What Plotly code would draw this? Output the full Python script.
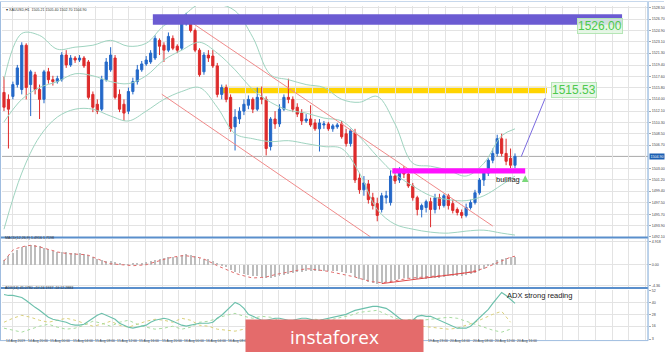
import plotly.graph_objects as go

# ---------------- data ----------------
candle_idx = list(range(116))
open_ = [1515.06,1513.96,1514.43,1516.31,1515.53,1522.56,1516.31,1517.87,1515.53,1513.96,
1518.34,1517.09,1516.78,1517.09,1521.00,1519.43,1520.53,1520.21,1520.53,1519.90,
1514.75,1513.18,1512.40,1517.09,1518.65,1520.53,1514.75,1513.18,1512.09,1515.21,
1516.78,1518.65,1519.59,1519.90,1520.53,1523.34,1522.56,1521.78,1523.65,1522.40,
1522.09,1526.15,1526.93,1524.90,1521.78,1518.34,1521.00,1520.84,1519.28,1514.75,
1515.84,1514.28,1509.59,1510.84,1512.09,1513.03,1513.96,1512.40,1514.28,1513.96,
1506.46,1510.84,1510.06,1512.40,1514.28,1513.96,1512.71,1511.78,1510.53,1510.84,
1510.21,1509.28,1509.90,1510.06,1509.28,1509.59,1510.06,1508.50,1506.93,1508.65,
1501.46,1499.59,1500.53,1498.34,1497.40,1496.46,1498.34,1497.56,1501.78,1501.15,
1502.71,1502.09,1500.21,1498.34,1496.46,1496.78,1497.71,1496.46,1498.34,1497.09,
1498.65,1497.40,1496.46,1495.99,1495.53,1496.78,1497.56,1499.12,1501.15,1502.25,
1504.28,1505.37,1507.71,1505.37,1504.59,1503.50]
high = [1517.56,1514.75,1516.78,1519.43,1523.03,1522.87,1518.65,1518.34,1516.31,1518.65,
1518.96,1517.71,1517.71,1521.46,1521.78,1521.00,1520.84,1521.00,1520.84,1520.21,
1515.21,1513.96,1517.71,1520.53,1522.25,1521.00,1515.53,1513.96,1515.84,1517.40,
1519.43,1520.06,1520.84,1521.78,1524.12,1523.65,1523.03,1524.59,1524.12,1522.71,
1526.78,1527.71,1527.25,1525.21,1522.09,1521.46,1521.78,1521.78,1519.75,1516.31,
1516.31,1514.75,1512.40,1512.71,1513.96,1514.59,1514.28,1515.84,1516.00,1514.43,
1511.15,1512.09,1513.18,1514.75,1517.25,1514.43,1513.34,1512.40,1511.62,1513.03,
1510.84,1510.84,1510.53,1510.37,1510.06,1510.21,1510.53,1509.28,1509.28,1509.28,
1502.25,1501.78,1501.15,1499.12,1498.34,1499.12,1499.43,1502.71,1503.03,1503.18,
1503.34,1502.71,1500.68,1498.65,1497.40,1498.03,1498.34,1498.96,1498.96,1498.96,
1498.96,1498.03,1496.78,1496.46,1497.40,1498.03,1499.59,1501.46,1502.71,1504.59,
1506.15,1508.34,1508.50,1507.71,1506.15,1505.37]
low = [1512.09,1506.15,1513.96,1515.84,1514.75,1513.96,1511.31,1514.75,1510.84,1513.34,
1516.46,1516.15,1516.46,1516.78,1518.96,1519.12,1519.75,1519.90,1518.96,1513.96,
1511.93,1511.62,1512.09,1516.78,1518.34,1513.96,1511.93,1510.53,1511.62,1514.75,
1516.31,1518.34,1519.28,1519.59,1520.21,1521.00,1519.90,1521.46,1521.78,1521.31,
1521.78,1525.68,1524.59,1521.46,1517.56,1517.87,1519.90,1518.96,1514.28,1513.96,
1513.50,1508.81,1505.84,1510.06,1511.46,1512.40,1511.78,1512.09,1513.18,1505.06,
1505.84,1509.28,1509.59,1512.09,1513.34,1511.93,1511.15,1509.90,1510.21,1509.59,
1508.96,1505.68,1509.28,1508.96,1508.81,1509.28,1507.71,1506.46,1506.46,1500.68,
1498.96,1498.65,1497.40,1496.46,1494.59,1495.99,1497.40,1497.09,1500.53,1500.68,
1501.46,1499.90,1497.87,1495.53,1495.21,1495.99,1493.65,1495.84,1496.46,1496.78,
1496.46,1495.84,1495.53,1495.06,1495.21,1496.46,1497.25,1498.81,1500.21,1501.78,
1503.81,1504.90,1504.90,1503.50,1503.03,1503.03]
close = [1512.71,1512.40,1516.31,1518.96,1522.56,1515.84,1518.34,1515.53,1513.96,1518.34,
1517.09,1516.78,1517.25,1521.00,1519.43,1520.53,1520.21,1520.53,1519.28,1514.28,
1512.71,1512.09,1517.09,1519.90,1521.00,1514.28,1512.40,1511.78,1515.21,1516.78,
1518.65,1519.59,1520.21,1521.31,1523.65,1522.40,1521.78,1523.96,1522.09,1521.78,
1526.46,1527.25,1524.90,1521.78,1517.87,1521.00,1520.53,1519.28,1514.75,1515.84,
1513.96,1509.28,1511.15,1512.09,1513.18,1513.96,1512.40,1514.28,1513.96,1506.15,
1510.84,1510.06,1512.40,1514.28,1513.96,1512.40,1511.62,1510.53,1510.84,1509.90,
1509.28,1510.21,1510.06,1509.28,1509.75,1509.90,1508.03,1506.93,1508.96,1501.15,
1499.59,1500.68,1498.03,1497.09,1495.53,1498.65,1498.65,1501.78,1501.00,1502.71,
1502.09,1500.21,1498.34,1496.46,1497.09,1497.71,1496.46,1498.34,1497.09,1498.65,
1497.09,1496.31,1495.99,1495.53,1496.78,1497.56,1499.12,1501.15,1502.25,1504.28,
1505.37,1507.71,1505.37,1504.12,1503.50,1504.90]

bb_idx = [0,4,8,12,16,20,24,28,32,36,40,44,48,52,56,60,64,68,72,76,80,84,88,92,96,100,104,108,112,115]
bb_upper = [1517.09,1524.43,1524.12,1521.93,1522.25,1522.56,1523.34,1522.40,1522.87,1525.68,1527.09,1529.12,1529.12,1528.03,1523.81,1517.87,1517.09,1516.31,1515.84,1513.96,1513.50,1514.43,1510.06,1503.81,1503.34,1502.71,1501.78,1503.81,1508.18,1509.28]
bb_mid = [1510.37,1513.96,1515.84,1516.78,1518.03,1517.71,1516.78,1516.46,1517.71,1520.21,1521.78,1523.03,1521.31,1518.65,1515.53,1513.50,1512.25,1511.78,1510.99,1510.53,1508.03,1504.90,1502.09,1500.21,1498.65,1498.03,1497.87,1498.65,1500.37,1501.78]
bb_lower = [1493.34,1502.25,1508.03,1511.15,1512.40,1512.40,1511.31,1510.53,1512.09,1513.96,1515.21,1515.84,1512.71,1508.50,1507.71,1507.25,1507.40,1506.93,1506.46,1506.15,1502.25,1496.46,1494.12,1493.34,1492.87,1492.71,1493.03,1493.18,1492.71,1492.40]

channel_upper_x = [41, 110]
channel_upper_y = [1526.75, 1493.83]
channel_lower_x = [35.5, 82.5]
channel_lower_y = [1514.78, 1492.1]
projection_x = [116.4, 121.8]
projection_y = [1504.86, 1514.15]

level_top = 1526.00
level_mid = 1515.53
current_price = 1504.90

price_ticks = [1528.50,1526.70,1524.90,1523.10,1521.30,1519.40,1517.60,1515.80,1514.00,1512.10,
               1510.30,1508.50,1506.70,1503.00,1501.20,1499.40,1497.50,1495.70,1493.90,1492.10]

macd_hist = [1.0,1.8,2.5,3.2,3.8,4.0,4.2,4.1,3.9,3.6,3.3,3.0,2.8,2.8,2.7,2.6,2.5,2.4,2.3,2.0,
1.6,1.2,1.0,0.9,0.8,0.6,0.3,0.1,0.1,0.2,0.3,0.4,0.6,0.8,1.1,1.3,1.4,1.6,1.7,1.7,
2.0,2.2,2.1,1.9,1.5,1.3,1.2,0.9,0.3,-0.1,-0.5,-1.1,-1.5,-1.8,-2.0,-2.2,-2.3,-2.4,-2.5,-2.8,
-2.8,-2.6,-2.4,-2.2,-2.0,-1.8,-1.6,-1.5,-1.4,-1.3,-1.3,-1.4,-1.4,-1.4,-1.4,-1.4,-1.5,-1.7,-1.8,-2.5,
-3.0,-3.3,-3.6,-3.8,-4.0,-3.9,-3.7,-3.4,-3.2,-3.0,-2.9,-2.9,-3.0,-3.1,-3.1,-3.0,-2.9,-2.8,-2.7,-2.5,
-2.4,-2.3,-2.3,-2.4,-2.2,-2.0,-1.7,-1.3,-0.8,-0.2,0.4,1.0,1.3,1.5,1.6,1.7]
macd_signal = [0.8,2.0,3.1,3.5,3.8,4.0,4.1,4.0,3.8,3.5,3.3,3.0,2.7,2.5,2.4,2.3,2.3,2.2,2.15,2.0,
1.6,1.2,0.8,0.5,0.2,0.1,0.0,-0.1,-0.2,-0.2,-0.15,-0.1,0.0,0.3,0.6,0.9,1.2,1.4,1.6,1.8,
1.9,1.9,1.8,1.7,1.5,1.2,0.8,0.3,-0.2,-0.6,-1.0,-1.5,-1.8,-2.1,-2.4,-2.6,-2.8,-2.8,-2.7,-2.6,
-2.3,-2.1,-1.9,-1.7,-1.5,-1.3,-1.1,-0.9,-0.85,-0.9,-1.0,-1.1,-1.3,-1.4,-1.6,-1.8,-1.9,-2.1,-2.3,-2.6,
-2.9,-3.2,-3.4,-3.6,-3.7,-3.8,-3.7,-3.6,-3.4,-3.2,-3.0,-2.9,-2.8,-2.7,-2.6,-2.5,-2.45,-2.4,-2.3,-2.25,
-2.2,-2.1,-2.0,-1.9,-1.7,-1.5,-1.3,-1.0,-0.8,-0.4,0.0,0.4,0.8,1.2,1.6,1.8]
macd_trend_x = [85, 106.3]
macd_trend_y = [-4.0, -1.43]

adx = [48,47,47,46,45,42,38,35,32,28,25,23,22,21,20,18,17,17,18,21,
24,27,29,27,25,23,19,17,15,14,15,16,17,20,22,23,24,23,21,19,
17,16,17,18,19,19,19,20,24,27,31,35,40,38,34,28,26,24,22,22,
23,24,24,23,22,22,23,24,24,23,22,22,23,24,25,26,27,28,30,32,
33,34,35,36,36,35,34,31,27,24,21,19,22,26,27,26,26,24,22,20,
18,16,14,14,14,16,20,24,28,33,39,45,50,47,43,39]
di_idx = list(range(0, 116, 2))
di_plus = [20,24,27,25,22,20,22,24,22,19,16,18,21,17,15,18,21,23,22,20,24,22,17,16,13,12,11,13,14,13,
12,15,19,17,15,14,15,14,13,12,10,11,10,12,16,17,15,16,15,14,13,14,17,20,24,28,31,20]
di_minus = [14,12,10,13,16,18,15,13,14,17,21,19,16,20,22,18,15,13,14,16,13,15,20,21,24,27,29,26,24,26,
25,22,18,20,22,23,22,23,25,27,30,31,32,28,24,22,23,22,23,24,25,24,21,18,15,12,10,13]

# date labels that are visible (the ones in the middle sit under the logo)
x_label_pos = [0,5,10,15,20,25,30,35,40,45,50,95,100,105,110,115]
x_label_text = ["14 Aug 2019","14 Aug 20:00","15 Aug 00:00","15 Aug 04:00","15 Aug 08:00","15 Aug 12:00",
                "15 Aug 16:00","15 Aug 20:00","16 Aug 00:00","16 Aug 04:00","16 Aug 08:00",
                "19 Aug 23:00","20 Aug 04:00","20 Aug 08:00","20 Aug 12:00","20 Aug 16:00"]

# ---------------- figure ----------------
W, H = 665, 352
def py(p):  # pixel row -> paper y
    return 1 - p / H
def px(p):
    return p / W

XL, XR = px(2), px(649)
XRANGE = [-0.45, 144.94]
GRID = "#e3e3e3"
BLUE_SEP = "#5a8fcc"

fig = go.Figure()

for arr in (bb_upper, bb_mid, bb_lower):
    fig.add_trace(go.Scatter(x=bb_idx, y=arr, mode="lines", line=dict(color="#9fd4c0", width=1, shape="spline"),
                             xaxis="x", yaxis="y", hoverinfo="skip", showlegend=False))
fig.add_trace(go.Scatter(x=channel_upper_x, y=channel_upper_y, mode="lines", line=dict(color="#f08a8a", width=1),
                         xaxis="x", yaxis="y", hoverinfo="skip", showlegend=False))
fig.add_trace(go.Scatter(x=channel_lower_x, y=channel_lower_y, mode="lines", line=dict(color="#f08a8a", width=1),
                         xaxis="x", yaxis="y", hoverinfo="skip", showlegend=False))

fig.add_trace(go.Candlestick(x=candle_idx, open=open_, high=high, low=low, close=close,
                             increasing=dict(line=dict(color="#2468c8", width=1), fillcolor="#2468c8"),
                             decreasing=dict(line=dict(color="#dd2b2b", width=1), fillcolor="#dd2b2b"),
                             whiskerwidth=0, xaxis="x", yaxis="y", hoverinfo="skip", showlegend=False))
fig.add_trace(go.Scatter(x=projection_x, y=projection_y, mode="lines", line=dict(color="#7a6ae0", width=1),
                         xaxis="x", yaxis="y", hoverinfo="skip", showlegend=False))

fig.add_trace(go.Bar(x=candle_idx, y=macd_hist, width=0.22, marker=dict(color="#bdbdbd", line=dict(width=0)),
                     xaxis="x2", yaxis="y2", hoverinfo="skip", showlegend=False))
fig.add_trace(go.Scatter(x=candle_idx, y=macd_signal, mode="lines", line=dict(color="#e06a6a", width=1, dash="dot"),
                         xaxis="x2", yaxis="y2", hoverinfo="skip", showlegend=False))
fig.add_trace(go.Scatter(x=macd_trend_x, y=macd_trend_y, mode="lines", line=dict(color="#e04848", width=1),
                         xaxis="x2", yaxis="y2", hoverinfo="skip", showlegend=False))

fig.add_trace(go.Scatter(x=di_idx, y=di_plus, mode="lines", line=dict(color="#d9cf7a", width=1, dash="dot"),
                         xaxis="x3", yaxis="y3", hoverinfo="skip", showlegend=False))
fig.add_trace(go.Scatter(x=di_idx, y=di_minus, mode="lines", line=dict(color="#a8dca0", width=1, dash="dot"),
                         xaxis="x3", yaxis="y3", hoverinfo="skip", showlegend=False))
fig.add_trace(go.Scatter(x=candle_idx, y=adx, mode="lines", line=dict(color="#6cc0ac", width=1.2),
                         xaxis="x3", yaxis="y3", hoverinfo="skip", showlegend=False))

xcommon = dict(domain=[XL, XR], range=XRANGE, showticklabels=False, showgrid=True, gridcolor=GRID,
               gridwidth=1, tick0=1.87, dtick=3.75, zeroline=False, showline=False, ticks="")
tickfont = dict(size=3.6, color="#444", family="Arial")

shapes = [
    dict(type="rect", xref="x", yref="y", x0=33.5, x1=139.1, y0=level_top - 0.2, y1=level_top + 1.5,
         fillcolor="#6b5bd2", line=dict(width=0), layer="above"),
    dict(type="rect", xref="x", yref="y", x0=49, x1=122.2, y0=level_mid - 0.6, y1=level_mid + 0.45,
         fillcolor="#ffd400", line=dict(width=0), layer="below"),
    dict(type="rect", xref="x", yref="y", x0=87.4, x1=117.3, y0=1502.2, y1=1503.0,
         fillcolor="#ff10ff", line=dict(width=0), layer="above"),
    dict(type="line", xref="paper", yref="y", x0=XL, x1=XR, y0=current_price, y1=current_price,
         line=dict(color="#a9a9a9", width=1), layer="below"),
    dict(type="line", xref="paper", yref="paper", x0=0, x1=XR, y0=py(238.5), y1=py(238.5),
         line=dict(color=BLUE_SEP, width=2)),
    dict(type="line", xref="paper", yref="paper", x0=0, x1=XR, y0=py(289.5), y1=py(289.5),
         line=dict(color=BLUE_SEP, width=2)),
    dict(type="line", xref="paper", yref="paper", x0=XR, x1=XR, y0=py(342.5), y1=1,
         line=dict(color="#7aa6d6", width=1)),
    dict(type="line", xref="paper", yref="paper", x0=0, x1=XR, y0=py(342.5), y1=py(342.5),
         line=dict(color="#9fbde0", width=1)),
    dict(type="line", xref="paper", yref="paper", x0=px(0.5), x1=px(0.5), y0=py(342.5), y1=1,
         line=dict(color="#9fbde0", width=1)),
    dict(type="line", xref="paper", yref="paper", x0=0, x1=1, y0=py(0.5), y1=py(0.5),
         line=dict(color="#c7d8ec", width=1)),
]

annotations = [
    dict(xref="x", yref="y", x=129, y=level_top - 0.35, text="1526.00", showarrow=False, xanchor="left",
         font=dict(size=12, color="#4cc94c", family="Arial"), bgcolor="rgba(226,246,226,0.85)",
         bordercolor="#b5e6b5", borderwidth=1, borderpad=0),
    dict(xref="x", yref="y", x=123.1, y=level_mid - 0.1, text="1515.53", showarrow=False, xanchor="left",
         font=dict(size=12, color="#4cc94c", family="Arial"), bgcolor="rgba(226,246,226,0.85)",
         bordercolor="#b5e6b5", borderwidth=1, borderpad=0),
    dict(xref="x", yref="y", x=110.2, y=1501.3, text="bullflag", showarrow=False, xanchor="left",
         font=dict(size=7.5, color="#222", family="Arial")),
    # small green up arrow next to "bullflag"
    dict(xref="x", yref="y", x=117.3, y=1501.9, ax=0, ay=8, text="", showarrow=True, arrowhead=2,
         arrowsize=1.1, arrowwidth=1.2, arrowcolor="#7ad87a"),
    dict(xref="x3", yref="y3", x=112.8, y=46.5, text="ADX strong reading", showarrow=False, xanchor="left",
         font=dict(size=7.5, color="#222", family="Arial")),
    dict(xref="paper", yref="y", x=XR + 0.0015, y=current_price, text="1504.90", showarrow=False, xanchor="left",
         font=dict(size=3.6, color="white", family="Arial"), bgcolor="#1c5fb2", borderpad=0.5),
    dict(xref="paper", yref="paper", x=px(4), y=py(5), text="▾ XAUUSD,H1  1505.21 1505.40 1502.70 1504.90",
         showarrow=False, xanchor="left", font=dict(size=3.6, color="#333", family="Arial")),
    dict(xref="paper", yref="paper", x=px(3), y=py(243.5), text="MACD(12,26,9) 1.4916 1.7198",
         showarrow=False, xanchor="left", font=dict(size=3.6, color="#333", family="Arial")),
    dict(xref="paper", yref="paper", x=px(3), y=py(294), text="ADX(14) 45.0780 +DI:24.1937 -DI:12.2883",
         showarrow=False, xanchor="left", font=dict(size=3.6, color="#333", family="Arial")),
]
for pos, txt in zip(x_label_pos, x_label_text):
    annotations.append(dict(xref="x3", yref="paper", x=pos, y=py(347), text=txt, showarrow=False,
                            xanchor="left", font=dict(size=3.4, color="#444", family="Arial")))
# logo (box drawn as the annotation background so the text sits on top)
annotations.append(dict(xref="paper", yref="paper", x=px(245), y=py(321), xanchor="left", yanchor="top",
                        text="instaforex", showarrow=False, width=177, height=34, align="center",
                        valign="middle", bgcolor="#e46b6b", borderpad=0,
                        font=dict(size=19, color="#ffffff", family="Open Sans")))

fig.update_layout(
    width=W, height=H, margin=dict(l=0, r=0, t=0, b=0),
    paper_bgcolor="white", plot_bgcolor="white", showlegend=False,
    xaxis=dict(anchor="y", rangeslider=dict(visible=False), **xcommon),
    xaxis2=dict(anchor="y2", matches="x", **xcommon),
    xaxis3=dict(anchor="y3", matches="x", **xcommon),
    yaxis=dict(domain=[py(238), py(5)], range=[1492.1, 1528.8], anchor="x", side="right",
               tickvals=price_ticks, ticktext=[f"{v:.2f}" for v in price_ticks], tickfont=tickfont,
               showgrid=True, gridcolor=GRID, zeroline=False, ticks="outside", ticklen=2, tickcolor="#9ab"),
    yaxis2=dict(domain=[py(289), py(240)], range=[-4.83, 5.46], anchor="x2", side="right",
                tickvals=[4.918, 0, -4.36], ticktext=["4.918", "0.00", "-4.36"], tickfont=tickfont,
                showgrid=True, gridcolor=GRID, zeroline=False, ticks="outside", ticklen=2, tickcolor="#9ab"),
    yaxis3=dict(domain=[py(342), py(291)], range=[2, 53], anchor="x3", side="right",
                tickvals=[52, 40, 28, 16, 3], ticktext=["52", "40", "28", "16", "3"], tickfont=tickfont,
                showgrid=True, gridcolor=GRID, zeroline=False, ticks="outside", ticklen=2, tickcolor="#9ab"),
    shapes=shapes, annotations=annotations, bargap=0,
)

fig.write_html("out.html")
